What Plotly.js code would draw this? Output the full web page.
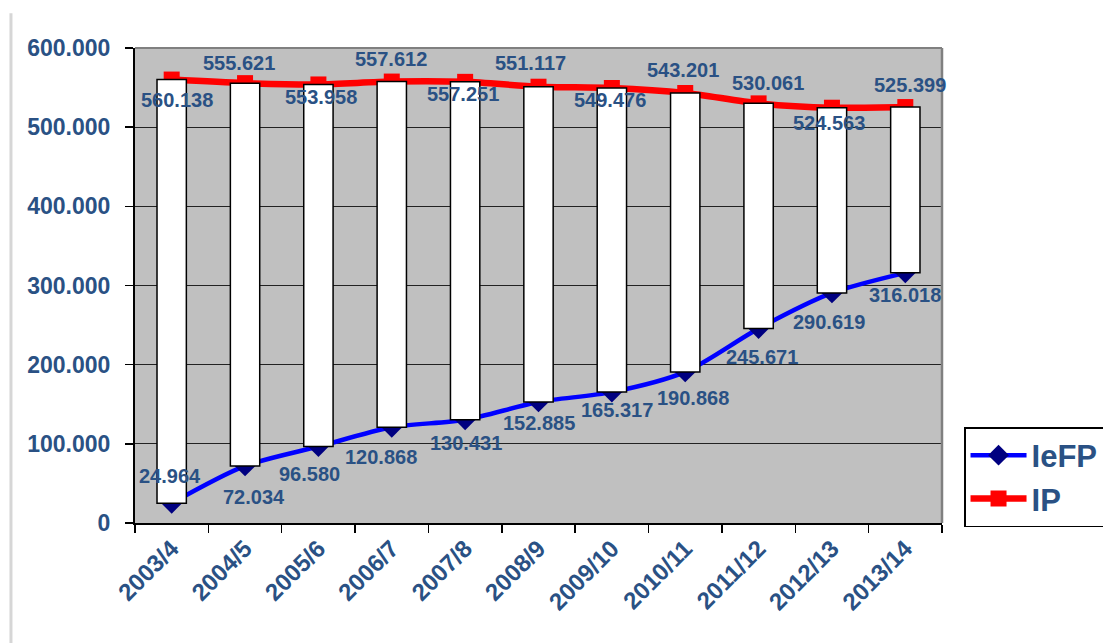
<!DOCTYPE html>
<html>
<head>
<meta charset="utf-8">
<script src="https://cdn.plot.ly/plotly-3.0.1.min.js"></script>
<style>
  html, body { margin: 0; padding: 0; background: #ffffff; }
  #chart { width: 1103px; height: 643px; }
</style>
</head>
<body>
<div id="chart"></div>
<script>
// ---- data ----
const categories = ["2003/4", "2004/5", "2005/6", "2006/7", "2007/8", "2008/9",
                    "2009/10", "2010/11", "2011/12", "2012/13", "2013/14"];
const iefpValues = [24964, 72034, 96580, 120868, 130431, 152885,
                    165317, 190868, 245671, 290619, 316018];
const ipValues   = [560138, 555621, 553958, 557612, 557251, 551117,
                    549476, 543201, 530061, 524563, 525399];
const seriesNames = ["IeFP", "IP"];
const yTickValues = [0, 100000, 200000, 300000, 400000, 500000, 600000];

// ---- label offsets (screen px: dx right, dy down) ----
const ipLabelDx   = [5, -6, 3, -1, -2, -8, -2, -2, 9, -3, 5];
const ipLabelDy   = [20, -20, 13, -23, 12, -24, 12, -23, -20, 15, -22];
const iefpLabelDx = [-2, 9, -9, -11, 1, 0, 5, 8, 3, -3, 0];
const iefpLabelDy = [-27, 31, 27, 30, 23, 21, 18, 26, 28, 29, 22];

// ---- style ----
const FONT = "Liberation Sans, Arial, sans-serif";
const TXT = "#2a5184";

function fmt(v) {
  return String(v).replace(/\B(?=(\d{3})+(?!\d))/g, ".");
}

const barHeights = ipValues.map((v, i) => v - iefpValues[i]);

const traces = [
  {
    type: "scatter", mode: "lines+markers", name: seriesNames[0],
    x: categories, y: iefpValues, xaxis: "x", yaxis: "y",
    line: { color: "#0000ff", width: 4.5, shape: "spline", smoothing: 0.8 },
    marker: { symbol: "diamond", size: 16, color: "#000080" },
    hoverinfo: "skip"
  },
  {
    type: "scatter", mode: "lines+markers", name: seriesNames[1],
    x: categories, y: ipValues, xaxis: "x", yaxis: "y",
    line: { color: "#ff0000", width: 6.5, shape: "spline", smoothing: 0.8 },
    marker: { symbol: "square", size: 16, color: "#ff0000" },
    hoverinfo: "skip"
  },
  {
    type: "bar", x: categories, y: barHeights, base: iefpValues,
    xaxis: "x2", yaxis: "y2", width: 0.4, showlegend: false,
    marker: { color: "#ffffff", line: { color: "#000000", width: 1.5 } },
    hoverinfo: "skip"
  }
];

const annotations = [];
ipValues.forEach((v, i) => {
  annotations.push({
    x: categories[i], y: v, xref: "x", yref: "y", text: fmt(v),
    showarrow: false, xanchor: "center", yanchor: "middle",
    xshift: ipLabelDx[i], yshift: -ipLabelDy[i],
    font: { family: FONT, size: 20, color: TXT, weight: 700 }
  });
});
iefpValues.forEach((v, i) => {
  annotations.push({
    x: categories[i], y: v, xref: "x", yref: "y", text: fmt(v),
    showarrow: false, xanchor: "center", yanchor: "middle",
    xshift: iefpLabelDx[i], yshift: -iefpLabelDy[i],
    font: { family: FONT, size: 20, color: TXT, weight: 700 }
  });
});

const layout = {
  width: 1103, height: 643,
  margin: { l: 135, r: 161, t: 48, b: 120, autoexpand: false },
  paper_bgcolor: "#ffffff",
  plot_bgcolor: "#c0c0c0",
  separators: ",.",
  showlegend: true,
  legend: {
    x: 1.0273, y: 0.2021, xanchor: "left", yanchor: "top",
    bgcolor: "#ffffff", bordercolor: "#000000", borderwidth: 1.5,
    font: { family: FONT, size: 31, color: TXT, weight: 700 },
    itemwidth: 56, tracegroupgap: 0
  },
  xaxis: {
    type: "category", range: [-0.5, 10.5], fixedrange: true,
    showgrid: false, showline: true, linecolor: "#000000", linewidth: 2,
    ticks: "outside", tickson: "boundaries", ticklen: 8, tickwidth: 1.5, tickcolor: "#000000",
    tickangle: -45,
    tickfont: { family: FONT, size: 24, color: TXT, weight: 700 },
    zeroline: false
  },
  yaxis: {
    range: [0, 600000], fixedrange: true,
    tickvals: yTickValues, tickformat: ",d",
    showgrid: true, gridcolor: "#222222", gridwidth: 1.3,
    showline: true, linecolor: "#000000", linewidth: 2,
    ticks: "outside", ticklen: 8, tickwidth: 1.5, tickcolor: "#000000",
    ticklabelstandoff: 10,
    tickfont: { family: FONT, size: 23, color: TXT, weight: 700 },
    zeroline: false
  },
  xaxis2: {
    type: "category", overlaying: "x", range: [-0.5, 10.5], visible: false, fixedrange: true
  },
  yaxis2: {
    overlaying: "y", range: [0, 600000], visible: false, fixedrange: true
  },
  shapes: [
    { type: "line", xref: "paper", yref: "paper", x0: 0, x1: 1, y0: 1, y1: 1,
      line: { color: "#808080", width: 2 }, layer: "above" },
    { type: "line", xref: "paper", yref: "paper", x0: 1, x1: 1, y0: 0, y1: 1,
      line: { color: "#808080", width: 2.5 }, layer: "above" },
    { type: "line", xref: "paper", yref: "paper", x0: -0.1537, x1: -0.1537, y0: 1.073, y1: -0.26,
      line: { color: "#d6d6d6", width: 3 }, layer: "below" }
  ],
  annotations: annotations
};

Plotly.newPlot("chart", traces, layout, { displayModeBar: false, staticPlot: true });
</script>
</body>
</html>
